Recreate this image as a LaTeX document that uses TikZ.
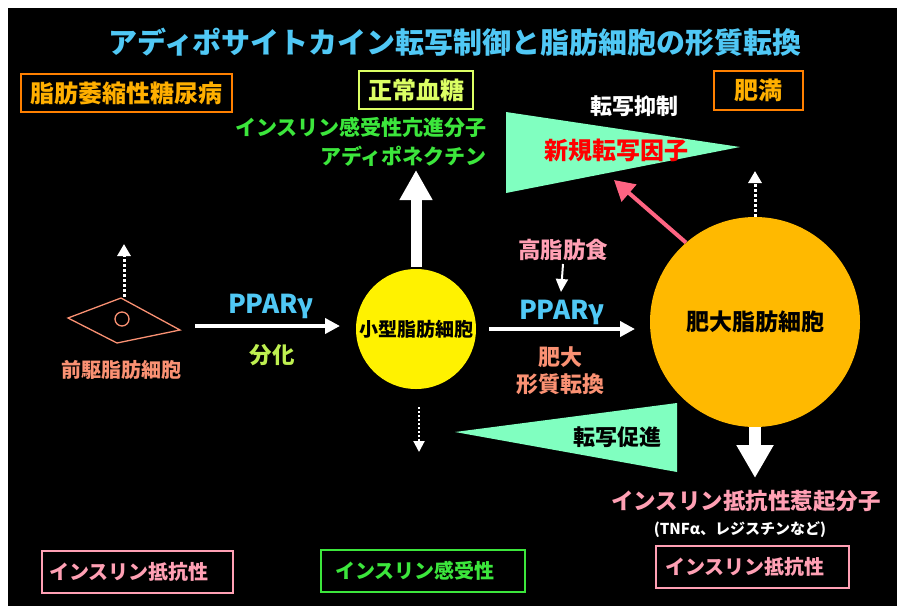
\documentclass[tikz,border=0pt]{standalone}
\usepackage{fontspec}
\setmainfont{Noto Sans CJK JP}
\usetikzlibrary{arrows.meta}

\definecolor{skyT}{RGB}{80,200,245}
\definecolor{orangeT}{RGB}{255,175,0}
\definecolor{limeT}{RGB}{220,255,100}
\definecolor{greenT}{RGB}{60,230,60}
\definecolor{mintF}{RGB}{128,255,192}
\definecolor{pinkT}{RGB}{255,160,180}
\definecolor{pinkA}{RGB}{255,100,130}
\definecolor{salmonT}{RGB}{250,145,115}
\definecolor{diffT}{RGB}{190,240,80}
\definecolor{bigcellF}{RGB}{255,185,0}

\newcommand{\fsz}[1]{\fontsize{#1}{#1}\selectfont}

\begin{document}
\begin{tikzpicture}[
  x=1pt, y=-1pt,
  every node/.style={font=\bfseries, inner sep=0pt},
  lbl/.style={font=\bfseries\fsz{22}},
  box/.style={draw, line width=1.6pt, font=\bfseries\fsz{24}},
  lowbox/.style={box, font=\bfseries\fsz{20}, align=left, minimum height=42pt},
  cell/.style={circle, font=\bfseries\fsz{19}, text=black},
  fat/.style={white, line width=4pt, -{Triangle[length=15pt,width=15pt]}},
  dots/.style={white, line width=3pt, dash pattern=on 3pt off 2pt, -{Triangle[length=12pt,width=13pt]}}
]
\useasboundingbox (0,0) rectangle (897,606);
\fill[black] (8,8) rectangle (897,606);

% title
\node[text=skyT, font=\bfseries\fsz{29}] (title) at (455,42) {アディポサイトカイン転写制御と脂肪細胞の形質転換};

% boxes
\node[box, draw=orange, text=orangeT, minimum width=211pt, minimum height=38pt] (atrophy) at (126.5,93) {脂肪萎縮性糖尿病};
\node[box, draw=limeT, text=limeT, minimum width=114pt, minimum height=38pt] (normo) at (416,90) {正常血糖};
\node[box, draw=orange, text=orangeT, minimum width=89pt, minimum height=39pt] (obese) at (758.5,90.5) {肥満};
\node[lowbox, draw=pinkT, text=pinkT, minimum width=191pt, text width=177pt] (resL) at (137.5,572) {インスリン抵抗性};
\node[lowbox, draw=greenT, text=greenT, minimum width=204pt, text width=176pt] (sens) at (423,571) {インスリン感受性};
\node[lowbox, draw=pinkT, text=pinkT, minimum width=193pt, text width=175pt] (resR) at (752.5,567) {インスリン抵抗性};

% triangles
\fill[mintF] (506,112) -- (506,193) -- (740,147) -- cycle;
\fill[mintF] (455,432) -- (677,403) -- (677,472) -- cycle;

% cells
\draw[salmonT, line width=1.3pt] (68,318) -- (121,298) -- (180,330) -- (117,343) -- cycle;
\draw[salmonT, line width=1.3pt] (122,319) circle (7);
\node[cell, fill=yellow, minimum size=120pt] (small) at (416,329) {小型脂肪細胞};
\node[cell, fill=bigcellF, minimum size=210pt, font=\bfseries\fsz{23}] (large) at (755,322) {肥大脂肪細胞};

% labels
\node[lbl, text=salmonT, font=\bfseries\fsz{20}] (pre) at (121,370) {前駆脂肪細胞};
\node[text=skyT, font=\bfseries\fsz{26}] (ppar1) at (271,306) {PPARγ};
\node[lbl, text=diffT, font=\bfseries\fsz{22.5}] (diff) at (272,355) {分化};
\node[text=skyT, font=\bfseries\fsz{26}] (ppar2) at (562,312) {PPARγ};
\node[lbl, text=pinkT, font=\bfseries\fsz{22.5}] (hfd) at (563,250) {高脂肪食};
\node[lbl, text=salmonT] (hyp) at (560,357) {肥大};
\node[lbl, text=salmonT] (trans) at (560,384) {形質転換};
\node[lbl, text=greenT, font=\bfseries\fsz{21}, anchor=east] (sensmol) at (487,127) {インスリン感受性亢進分子};
\node[lbl, text=greenT, font=\bfseries\fsz{21}, anchor=east] (adipo) at (487,156) {アディポネクチン};
\node[lbl, text=white] (repress) at (634,106) {転写抑制};
\node[lbl, text=red, font=\bfseries\fsz{24}] (tf) at (616,150) {新規転写因子};
\node[lbl, text=black] (promote) at (617,437) {転写促進};
\node[lbl, text=pinkT, font=\bfseries\fsz{22.5}] (resmol) at (746,501) {インスリン抵抗性惹起分子};
\node[text=white, font=\bfseries\fsz{15}] (tnf) at (740,530) {(TNFα、レジスチンなど)};

% free ends
\coordinate (upTip) at (416,170);
\coordinate (downTip) at (755,478);
\coordinate (a1s) at (195,326);
\coordinate (a1e) at (340,326);
\coordinate (a2s) at (489,329);
\coordinate (a2e) at (635,329);
\coordinate (hfdTip) at (561,292);
\coordinate (preTop) at (124,297);
\coordinate (preTip) at (124,244);
\coordinate (smallTip) at (419,452);
\coordinate (largeTip) at (755,171);
\coordinate (pinkTip) at (614,180);

% arrows
\draw[white, line width=11pt, shorten <=2pt, -{Triangle[length=30pt,width=31pt]}] (small.north) -- (upTip);
\draw[white, line width=12pt, -{Triangle[length=33pt,width=35pt]}] (large.south) -- (downTip);
\draw[fat] (a1s) -- (a1e);
\draw[fat] (a2s) -- (a2e);
\draw[white, line width=2pt, -{Triangle[length=13pt,width=12pt]}] (hfd.south) ++(0,3) -- (hfdTip);
\draw[dots] (preTop) -- (preTip);
\draw[white, line width=2pt, dash pattern=on 2pt off 2pt, -{Triangle[length=11pt,width=11pt]}] (419,407) -- (smallTip);
\draw[dots] (large.north) -- (largeTip);
\draw[pinkA, line width=4pt, -{Triangle[length=20pt,width=22pt]}] (large.131) -- (pinkTip);

\end{tikzpicture}
\end{document}
